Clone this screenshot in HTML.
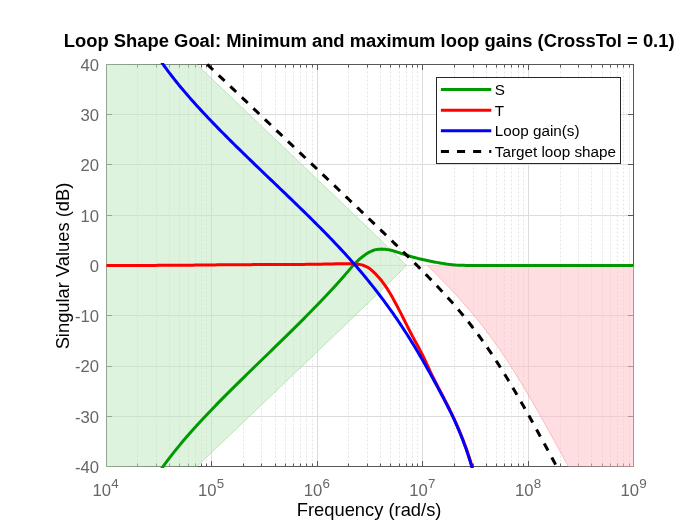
<!DOCTYPE html>
<html lang="en">
<head>
<meta charset="utf-8">
<title>Loop Shape Goal</title>
<style>
html,body{margin:0;padding:0;background:#fff;}
body{width:700px;height:525px;overflow:hidden;}
svg{display:block;}
svg text{font-family:"Liberation Sans",sans-serif;}
</style>
</head>
<body>
<svg width="700" height="525" viewBox="0 0 700 525">
<defs><clipPath id="pc"><rect x="106.0" y="63.0" width="528.0" height="405.0"/></clipPath></defs>
<rect x="0" y="0" width="700" height="525" fill="#ffffff"/>
<g stroke="#e4e4e4" stroke-width="1" stroke-dasharray="2 2" fill="none">
<line x1="137.5" y1="67.5" x2="137.5" y2="466.5"/>
<line x1="156.5" y1="67.5" x2="156.5" y2="466.5"/>
<line x1="169.5" y1="67.5" x2="169.5" y2="466.5"/>
<line x1="179.5" y1="67.5" x2="179.5" y2="466.5"/>
<line x1="188.5" y1="67.5" x2="188.5" y2="466.5"/>
<line x1="195.5" y1="67.5" x2="195.5" y2="466.5"/>
<line x1="201.5" y1="67.5" x2="201.5" y2="466.5"/>
<line x1="206.5" y1="67.5" x2="206.5" y2="466.5"/>
<line x1="243.5" y1="67.5" x2="243.5" y2="466.5"/>
<line x1="261.5" y1="67.5" x2="261.5" y2="466.5"/>
<line x1="275.5" y1="67.5" x2="275.5" y2="466.5"/>
<line x1="285.5" y1="67.5" x2="285.5" y2="466.5"/>
<line x1="293.5" y1="67.5" x2="293.5" y2="466.5"/>
<line x1="300.5" y1="67.5" x2="300.5" y2="466.5"/>
<line x1="306.5" y1="67.5" x2="306.5" y2="466.5"/>
<line x1="312.5" y1="67.5" x2="312.5" y2="466.5"/>
<line x1="348.5" y1="67.5" x2="348.5" y2="466.5"/>
<line x1="367.5" y1="67.5" x2="367.5" y2="466.5"/>
<line x1="380.5" y1="67.5" x2="380.5" y2="466.5"/>
<line x1="390.5" y1="67.5" x2="390.5" y2="466.5"/>
<line x1="399.5" y1="67.5" x2="399.5" y2="466.5"/>
<line x1="406.5" y1="67.5" x2="406.5" y2="466.5"/>
<line x1="412.5" y1="67.5" x2="412.5" y2="466.5"/>
<line x1="417.5" y1="67.5" x2="417.5" y2="466.5"/>
<line x1="454.5" y1="67.5" x2="454.5" y2="466.5"/>
<line x1="473.5" y1="67.5" x2="473.5" y2="466.5"/>
<line x1="486.5" y1="67.5" x2="486.5" y2="466.5"/>
<line x1="496.5" y1="67.5" x2="496.5" y2="466.5"/>
<line x1="504.5" y1="67.5" x2="504.5" y2="466.5"/>
<line x1="511.5" y1="67.5" x2="511.5" y2="466.5"/>
<line x1="518.5" y1="67.5" x2="518.5" y2="466.5"/>
<line x1="523.5" y1="67.5" x2="523.5" y2="466.5"/>
<line x1="560.5" y1="67.5" x2="560.5" y2="466.5"/>
<line x1="578.5" y1="67.5" x2="578.5" y2="466.5"/>
<line x1="591.5" y1="67.5" x2="591.5" y2="466.5"/>
<line x1="602.5" y1="67.5" x2="602.5" y2="466.5"/>
<line x1="610.5" y1="67.5" x2="610.5" y2="466.5"/>
<line x1="617.5" y1="67.5" x2="617.5" y2="466.5"/>
<line x1="623.5" y1="67.5" x2="623.5" y2="466.5"/>
<line x1="629.5" y1="67.5" x2="629.5" y2="466.5"/>
</g>
<g stroke="#dcdcdc" stroke-width="1" fill="none">
<line x1="211.5" y1="64.5" x2="211.5" y2="466.5"/>
<line x1="317.5" y1="64.5" x2="317.5" y2="466.5"/>
<line x1="422.5" y1="64.5" x2="422.5" y2="466.5"/>
<line x1="528.5" y1="64.5" x2="528.5" y2="466.5"/>
<line x1="106.5" y1="114.5" x2="633.5" y2="114.5"/>
<line x1="106.5" y1="164.5" x2="633.5" y2="164.5"/>
<line x1="106.5" y1="215.5" x2="633.5" y2="215.5"/>
<line x1="106.5" y1="265.5" x2="633.5" y2="265.5"/>
<line x1="106.5" y1="315.5" x2="633.5" y2="315.5"/>
<line x1="106.5" y1="366.5" x2="633.5" y2="366.5"/>
<line x1="106.5" y1="416.5" x2="633.5" y2="416.5"/>
</g>
<g stroke="#585858" stroke-width="1" fill="none">
<rect x="106.5" y="64.5" width="527.0" height="402.0"/>
<line x1="137.5" y1="466.5" x2="137.5" y2="463.5"/>
<line x1="137.5" y1="64.5" x2="137.5" y2="67.5"/>
<line x1="156.5" y1="466.5" x2="156.5" y2="463.5"/>
<line x1="156.5" y1="64.5" x2="156.5" y2="67.5"/>
<line x1="169.5" y1="466.5" x2="169.5" y2="463.5"/>
<line x1="169.5" y1="64.5" x2="169.5" y2="67.5"/>
<line x1="179.5" y1="466.5" x2="179.5" y2="463.5"/>
<line x1="179.5" y1="64.5" x2="179.5" y2="67.5"/>
<line x1="188.5" y1="466.5" x2="188.5" y2="463.5"/>
<line x1="188.5" y1="64.5" x2="188.5" y2="67.5"/>
<line x1="195.5" y1="466.5" x2="195.5" y2="463.5"/>
<line x1="195.5" y1="64.5" x2="195.5" y2="67.5"/>
<line x1="201.5" y1="466.5" x2="201.5" y2="463.5"/>
<line x1="201.5" y1="64.5" x2="201.5" y2="67.5"/>
<line x1="206.5" y1="466.5" x2="206.5" y2="463.5"/>
<line x1="206.5" y1="64.5" x2="206.5" y2="67.5"/>
<line x1="243.5" y1="466.5" x2="243.5" y2="463.5"/>
<line x1="243.5" y1="64.5" x2="243.5" y2="67.5"/>
<line x1="261.5" y1="466.5" x2="261.5" y2="463.5"/>
<line x1="261.5" y1="64.5" x2="261.5" y2="67.5"/>
<line x1="275.5" y1="466.5" x2="275.5" y2="463.5"/>
<line x1="275.5" y1="64.5" x2="275.5" y2="67.5"/>
<line x1="285.5" y1="466.5" x2="285.5" y2="463.5"/>
<line x1="285.5" y1="64.5" x2="285.5" y2="67.5"/>
<line x1="293.5" y1="466.5" x2="293.5" y2="463.5"/>
<line x1="293.5" y1="64.5" x2="293.5" y2="67.5"/>
<line x1="300.5" y1="466.5" x2="300.5" y2="463.5"/>
<line x1="300.5" y1="64.5" x2="300.5" y2="67.5"/>
<line x1="306.5" y1="466.5" x2="306.5" y2="463.5"/>
<line x1="306.5" y1="64.5" x2="306.5" y2="67.5"/>
<line x1="312.5" y1="466.5" x2="312.5" y2="463.5"/>
<line x1="312.5" y1="64.5" x2="312.5" y2="67.5"/>
<line x1="348.5" y1="466.5" x2="348.5" y2="463.5"/>
<line x1="348.5" y1="64.5" x2="348.5" y2="67.5"/>
<line x1="367.5" y1="466.5" x2="367.5" y2="463.5"/>
<line x1="367.5" y1="64.5" x2="367.5" y2="67.5"/>
<line x1="380.5" y1="466.5" x2="380.5" y2="463.5"/>
<line x1="380.5" y1="64.5" x2="380.5" y2="67.5"/>
<line x1="390.5" y1="466.5" x2="390.5" y2="463.5"/>
<line x1="390.5" y1="64.5" x2="390.5" y2="67.5"/>
<line x1="399.5" y1="466.5" x2="399.5" y2="463.5"/>
<line x1="399.5" y1="64.5" x2="399.5" y2="67.5"/>
<line x1="406.5" y1="466.5" x2="406.5" y2="463.5"/>
<line x1="406.5" y1="64.5" x2="406.5" y2="67.5"/>
<line x1="412.5" y1="466.5" x2="412.5" y2="463.5"/>
<line x1="412.5" y1="64.5" x2="412.5" y2="67.5"/>
<line x1="417.5" y1="466.5" x2="417.5" y2="463.5"/>
<line x1="417.5" y1="64.5" x2="417.5" y2="67.5"/>
<line x1="454.5" y1="466.5" x2="454.5" y2="463.5"/>
<line x1="454.5" y1="64.5" x2="454.5" y2="67.5"/>
<line x1="473.5" y1="466.5" x2="473.5" y2="463.5"/>
<line x1="473.5" y1="64.5" x2="473.5" y2="67.5"/>
<line x1="486.5" y1="466.5" x2="486.5" y2="463.5"/>
<line x1="486.5" y1="64.5" x2="486.5" y2="67.5"/>
<line x1="496.5" y1="466.5" x2="496.5" y2="463.5"/>
<line x1="496.5" y1="64.5" x2="496.5" y2="67.5"/>
<line x1="504.5" y1="466.5" x2="504.5" y2="463.5"/>
<line x1="504.5" y1="64.5" x2="504.5" y2="67.5"/>
<line x1="511.5" y1="466.5" x2="511.5" y2="463.5"/>
<line x1="511.5" y1="64.5" x2="511.5" y2="67.5"/>
<line x1="518.5" y1="466.5" x2="518.5" y2="463.5"/>
<line x1="518.5" y1="64.5" x2="518.5" y2="67.5"/>
<line x1="523.5" y1="466.5" x2="523.5" y2="463.5"/>
<line x1="523.5" y1="64.5" x2="523.5" y2="67.5"/>
<line x1="560.5" y1="466.5" x2="560.5" y2="463.5"/>
<line x1="560.5" y1="64.5" x2="560.5" y2="67.5"/>
<line x1="578.5" y1="466.5" x2="578.5" y2="463.5"/>
<line x1="578.5" y1="64.5" x2="578.5" y2="67.5"/>
<line x1="591.5" y1="466.5" x2="591.5" y2="463.5"/>
<line x1="591.5" y1="64.5" x2="591.5" y2="67.5"/>
<line x1="602.5" y1="466.5" x2="602.5" y2="463.5"/>
<line x1="602.5" y1="64.5" x2="602.5" y2="67.5"/>
<line x1="610.5" y1="466.5" x2="610.5" y2="463.5"/>
<line x1="610.5" y1="64.5" x2="610.5" y2="67.5"/>
<line x1="617.5" y1="466.5" x2="617.5" y2="463.5"/>
<line x1="617.5" y1="64.5" x2="617.5" y2="67.5"/>
<line x1="623.5" y1="466.5" x2="623.5" y2="463.5"/>
<line x1="623.5" y1="64.5" x2="623.5" y2="67.5"/>
<line x1="629.5" y1="466.5" x2="629.5" y2="463.5"/>
<line x1="629.5" y1="64.5" x2="629.5" y2="67.5"/>
<line x1="211.5" y1="466.5" x2="211.5" y2="461.0"/>
<line x1="211.5" y1="64.5" x2="211.5" y2="70.0"/>
<line x1="317.5" y1="466.5" x2="317.5" y2="461.0"/>
<line x1="317.5" y1="64.5" x2="317.5" y2="70.0"/>
<line x1="422.5" y1="466.5" x2="422.5" y2="461.0"/>
<line x1="422.5" y1="64.5" x2="422.5" y2="70.0"/>
<line x1="528.5" y1="466.5" x2="528.5" y2="461.0"/>
<line x1="528.5" y1="64.5" x2="528.5" y2="70.0"/>
<line x1="106.5" y1="114.5" x2="112.0" y2="114.5"/>
<line x1="633.5" y1="114.5" x2="628.0" y2="114.5"/>
<line x1="106.5" y1="164.5" x2="112.0" y2="164.5"/>
<line x1="633.5" y1="164.5" x2="628.0" y2="164.5"/>
<line x1="106.5" y1="215.5" x2="112.0" y2="215.5"/>
<line x1="633.5" y1="215.5" x2="628.0" y2="215.5"/>
<line x1="106.5" y1="265.5" x2="112.0" y2="265.5"/>
<line x1="633.5" y1="265.5" x2="628.0" y2="265.5"/>
<line x1="106.5" y1="315.5" x2="112.0" y2="315.5"/>
<line x1="633.5" y1="315.5" x2="628.0" y2="315.5"/>
<line x1="106.5" y1="366.5" x2="112.0" y2="366.5"/>
<line x1="633.5" y1="366.5" x2="628.0" y2="366.5"/>
<line x1="106.5" y1="416.5" x2="112.0" y2="416.5"/>
<line x1="633.5" y1="416.5" x2="628.0" y2="416.5"/>
</g>
<path d="M106.0,64.0 L196.84,64.46 L197.94,65.51 L199.03,66.55 L200.13,67.60 L201.23,68.65 L202.33,69.69 L203.43,70.74 L204.53,71.79 L205.62,72.84 L206.72,73.88 L207.82,74.93 L208.92,75.98 L210.02,77.03 L211.12,78.07 L212.21,79.12 L213.31,80.17 L214.41,81.22 L215.51,82.26 L216.61,83.31 L217.71,84.36 L218.80,85.40 L219.90,86.45 L221.00,87.50 L222.10,88.55 L223.20,89.59 L224.30,90.64 L225.39,91.69 L226.49,92.74 L227.59,93.78 L228.69,94.83 L229.79,95.88 L230.89,96.92 L231.99,97.97 L233.08,99.02 L234.18,100.07 L235.28,101.11 L236.38,102.16 L237.48,103.21 L238.58,104.26 L239.67,105.30 L240.77,106.35 L241.87,107.40 L242.97,108.45 L244.07,109.49 L245.17,110.54 L246.26,111.59 L247.36,112.63 L248.46,113.68 L249.56,114.73 L250.66,115.78 L251.76,116.82 L252.85,117.87 L253.95,118.92 L255.05,119.97 L256.15,121.01 L257.25,122.06 L258.35,123.11 L259.44,124.16 L260.54,125.20 L261.64,126.25 L262.74,127.30 L263.84,128.35 L264.94,129.39 L266.03,130.44 L267.13,131.49 L268.23,132.54 L269.33,133.58 L270.43,134.63 L271.53,135.68 L272.62,136.72 L273.72,137.77 L274.82,138.82 L275.92,139.87 L277.02,140.91 L278.12,141.96 L279.21,143.01 L280.31,144.06 L281.41,145.10 L282.51,146.15 L283.61,147.20 L284.71,148.25 L285.80,149.29 L286.90,150.34 L288.00,151.39 L289.10,152.44 L290.20,153.49 L291.30,154.53 L292.39,155.58 L293.49,156.63 L294.59,157.68 L295.69,158.72 L296.79,159.77 L297.89,160.82 L298.98,161.87 L300.08,162.91 L301.18,163.96 L302.28,165.01 L303.38,166.06 L304.48,167.11 L305.57,168.15 L306.67,169.20 L307.77,170.25 L308.87,171.30 L309.97,172.35 L311.07,173.39 L312.17,174.44 L313.26,175.49 L314.36,176.54 L315.46,177.59 L316.56,178.64 L317.66,179.68 L318.76,180.73 L319.85,181.78 L320.95,182.83 L322.05,183.88 L323.15,184.93 L324.25,185.97 L325.35,187.02 L326.44,188.07 L327.54,189.12 L328.64,190.17 L329.74,191.22 L330.84,192.27 L331.94,193.32 L333.03,194.37 L334.13,195.42 L335.23,196.47 L336.33,197.52 L337.43,198.57 L338.53,199.62 L339.62,200.67 L340.72,201.72 L341.82,202.77 L342.92,203.82 L344.02,204.87 L345.12,205.92 L346.21,206.97 L347.31,208.02 L348.41,209.07 L349.51,210.12 L350.61,211.18 L351.71,212.23 L352.80,213.28 L353.90,214.33 L355.00,215.39 L356.10,216.44 L357.20,217.49 L358.30,218.54 L359.39,219.60 L360.49,220.65 L361.59,221.71 L362.69,222.76 L363.79,223.82 L364.89,224.87 L365.98,225.93 L367.08,226.99 L368.18,228.04 L369.28,229.10 L370.38,230.16 L371.48,231.22 L372.57,232.28 L373.67,233.33 L374.77,234.40 L375.87,235.46 L376.97,236.52 L378.07,237.58 L379.16,238.64 L380.26,239.71 L381.36,240.77 L382.46,241.83 L383.56,242.90 L384.66,243.97 L385.75,245.04 L386.85,246.10 L387.95,247.17 L389.05,248.25 L390.15,249.32 L391.25,250.39 L392.35,251.47 L393.44,252.54 L394.54,253.62 L395.64,254.70 L396.74,255.78 L397.84,256.86 L398.94,257.94 L400.03,259.03 L401.13,260.11 L402.23,261.20 L403.33,262.29 L404.43,263.39 L405.53,264.48 L405.53,266.52 L404.43,267.61 L403.33,268.71 L402.23,269.80 L401.13,270.89 L400.03,271.97 L398.94,273.06 L397.84,274.14 L396.74,275.22 L395.64,276.30 L394.54,277.38 L393.44,278.46 L392.35,279.53 L391.25,280.61 L390.15,281.68 L389.05,282.75 L387.95,283.83 L386.85,284.90 L385.75,285.96 L384.66,287.03 L383.56,288.10 L382.46,289.17 L381.36,290.23 L380.26,291.29 L379.16,292.36 L378.07,293.42 L376.97,294.48 L375.87,295.54 L374.77,296.60 L373.67,297.67 L372.57,298.72 L371.48,299.78 L370.38,300.84 L369.28,301.90 L368.18,302.96 L367.08,304.01 L365.98,305.07 L364.89,306.13 L363.79,307.18 L362.69,308.24 L361.59,309.29 L360.49,310.35 L359.39,311.40 L358.30,312.46 L357.20,313.51 L356.10,314.56 L355.00,315.61 L353.90,316.67 L352.80,317.72 L351.71,318.77 L350.61,319.82 L349.51,320.88 L348.41,321.93 L347.31,322.98 L346.21,324.03 L345.12,325.08 L344.02,326.13 L342.92,327.18 L341.82,328.23 L340.72,329.28 L339.62,330.33 L338.53,331.38 L337.43,332.43 L336.33,333.48 L335.23,334.53 L334.13,335.58 L333.03,336.63 L331.94,337.68 L330.84,338.73 L329.74,339.78 L328.64,340.83 L327.54,341.88 L326.44,342.93 L325.35,343.98 L324.25,345.03 L323.15,346.07 L322.05,347.12 L320.95,348.17 L319.85,349.22 L318.76,350.27 L317.66,351.32 L316.56,352.36 L315.46,353.41 L314.36,354.46 L313.26,355.51 L312.17,356.56 L311.07,357.61 L309.97,358.65 L308.87,359.70 L307.77,360.75 L306.67,361.80 L305.57,362.85 L304.48,363.89 L303.38,364.94 L302.28,365.99 L301.18,367.04 L300.08,368.09 L298.98,369.13 L297.89,370.18 L296.79,371.23 L295.69,372.28 L294.59,373.32 L293.49,374.37 L292.39,375.42 L291.30,376.47 L290.20,377.51 L289.10,378.56 L288.00,379.61 L286.90,380.66 L285.80,381.71 L284.71,382.75 L283.61,383.80 L282.51,384.85 L281.41,385.90 L280.31,386.94 L279.21,387.99 L278.12,389.04 L277.02,390.09 L275.92,391.13 L274.82,392.18 L273.72,393.23 L272.62,394.28 L271.53,395.32 L270.43,396.37 L269.33,397.42 L268.23,398.46 L267.13,399.51 L266.03,400.56 L264.94,401.61 L263.84,402.65 L262.74,403.70 L261.64,404.75 L260.54,405.80 L259.44,406.84 L258.35,407.89 L257.25,408.94 L256.15,409.99 L255.05,411.03 L253.95,412.08 L252.85,413.13 L251.76,414.18 L250.66,415.22 L249.56,416.27 L248.46,417.32 L247.36,418.37 L246.26,419.41 L245.17,420.46 L244.07,421.51 L242.97,422.55 L241.87,423.60 L240.77,424.65 L239.67,425.70 L238.58,426.74 L237.48,427.79 L236.38,428.84 L235.28,429.89 L234.18,430.93 L233.08,431.98 L231.99,433.03 L230.89,434.08 L229.79,435.12 L228.69,436.17 L227.59,437.22 L226.49,438.26 L225.39,439.31 L224.30,440.36 L223.20,441.41 L222.10,442.45 L221.00,443.50 L219.90,444.55 L218.80,445.60 L217.71,446.64 L216.61,447.69 L215.51,448.74 L214.41,449.78 L213.31,450.83 L212.21,451.88 L211.12,452.93 L210.02,453.97 L208.92,455.02 L207.82,456.07 L206.72,457.12 L205.62,458.16 L204.53,459.21 L203.43,460.26 L202.33,461.31 L201.23,462.35 L200.13,463.40 L199.03,464.45 L197.94,465.49 L196.84,466.54 L106.0,467.0 Z" fill="rgba(195,233,195,0.55)" stroke="none"/>
<path d="M196.84,64.46 L197.94,65.51 L199.03,66.55 L200.13,67.60 L201.23,68.65 L202.33,69.69 L203.43,70.74 L204.53,71.79 L205.62,72.84 L206.72,73.88 L207.82,74.93 L208.92,75.98 L210.02,77.03 L211.12,78.07 L212.21,79.12 L213.31,80.17 L214.41,81.22 L215.51,82.26 L216.61,83.31 L217.71,84.36 L218.80,85.40 L219.90,86.45 L221.00,87.50 L222.10,88.55 L223.20,89.59 L224.30,90.64 L225.39,91.69 L226.49,92.74 L227.59,93.78 L228.69,94.83 L229.79,95.88 L230.89,96.92 L231.99,97.97 L233.08,99.02 L234.18,100.07 L235.28,101.11 L236.38,102.16 L237.48,103.21 L238.58,104.26 L239.67,105.30 L240.77,106.35 L241.87,107.40 L242.97,108.45 L244.07,109.49 L245.17,110.54 L246.26,111.59 L247.36,112.63 L248.46,113.68 L249.56,114.73 L250.66,115.78 L251.76,116.82 L252.85,117.87 L253.95,118.92 L255.05,119.97 L256.15,121.01 L257.25,122.06 L258.35,123.11 L259.44,124.16 L260.54,125.20 L261.64,126.25 L262.74,127.30 L263.84,128.35 L264.94,129.39 L266.03,130.44 L267.13,131.49 L268.23,132.54 L269.33,133.58 L270.43,134.63 L271.53,135.68 L272.62,136.72 L273.72,137.77 L274.82,138.82 L275.92,139.87 L277.02,140.91 L278.12,141.96 L279.21,143.01 L280.31,144.06 L281.41,145.10 L282.51,146.15 L283.61,147.20 L284.71,148.25 L285.80,149.29 L286.90,150.34 L288.00,151.39 L289.10,152.44 L290.20,153.49 L291.30,154.53 L292.39,155.58 L293.49,156.63 L294.59,157.68 L295.69,158.72 L296.79,159.77 L297.89,160.82 L298.98,161.87 L300.08,162.91 L301.18,163.96 L302.28,165.01 L303.38,166.06 L304.48,167.11 L305.57,168.15 L306.67,169.20 L307.77,170.25 L308.87,171.30 L309.97,172.35 L311.07,173.39 L312.17,174.44 L313.26,175.49 L314.36,176.54 L315.46,177.59 L316.56,178.64 L317.66,179.68 L318.76,180.73 L319.85,181.78 L320.95,182.83 L322.05,183.88 L323.15,184.93 L324.25,185.97 L325.35,187.02 L326.44,188.07 L327.54,189.12 L328.64,190.17 L329.74,191.22 L330.84,192.27 L331.94,193.32 L333.03,194.37 L334.13,195.42 L335.23,196.47 L336.33,197.52 L337.43,198.57 L338.53,199.62 L339.62,200.67 L340.72,201.72 L341.82,202.77 L342.92,203.82 L344.02,204.87 L345.12,205.92 L346.21,206.97 L347.31,208.02 L348.41,209.07 L349.51,210.12 L350.61,211.18 L351.71,212.23 L352.80,213.28 L353.90,214.33 L355.00,215.39 L356.10,216.44 L357.20,217.49 L358.30,218.54 L359.39,219.60 L360.49,220.65 L361.59,221.71 L362.69,222.76 L363.79,223.82 L364.89,224.87 L365.98,225.93 L367.08,226.99 L368.18,228.04 L369.28,229.10 L370.38,230.16 L371.48,231.22 L372.57,232.28 L373.67,233.33 L374.77,234.40 L375.87,235.46 L376.97,236.52 L378.07,237.58 L379.16,238.64 L380.26,239.71 L381.36,240.77 L382.46,241.83 L383.56,242.90 L384.66,243.97 L385.75,245.04 L386.85,246.10 L387.95,247.17 L389.05,248.25 L390.15,249.32 L391.25,250.39 L392.35,251.47 L393.44,252.54 L394.54,253.62 L395.64,254.70 L396.74,255.78 L397.84,256.86 L398.94,257.94 L400.03,259.03 L401.13,260.11 L402.23,261.20 L403.33,262.29 L404.43,263.39 L405.53,264.48 L405.53,266.52 L404.43,267.61 L403.33,268.71 L402.23,269.80 L401.13,270.89 L400.03,271.97 L398.94,273.06 L397.84,274.14 L396.74,275.22 L395.64,276.30 L394.54,277.38 L393.44,278.46 L392.35,279.53 L391.25,280.61 L390.15,281.68 L389.05,282.75 L387.95,283.83 L386.85,284.90 L385.75,285.96 L384.66,287.03 L383.56,288.10 L382.46,289.17 L381.36,290.23 L380.26,291.29 L379.16,292.36 L378.07,293.42 L376.97,294.48 L375.87,295.54 L374.77,296.60 L373.67,297.67 L372.57,298.72 L371.48,299.78 L370.38,300.84 L369.28,301.90 L368.18,302.96 L367.08,304.01 L365.98,305.07 L364.89,306.13 L363.79,307.18 L362.69,308.24 L361.59,309.29 L360.49,310.35 L359.39,311.40 L358.30,312.46 L357.20,313.51 L356.10,314.56 L355.00,315.61 L353.90,316.67 L352.80,317.72 L351.71,318.77 L350.61,319.82 L349.51,320.88 L348.41,321.93 L347.31,322.98 L346.21,324.03 L345.12,325.08 L344.02,326.13 L342.92,327.18 L341.82,328.23 L340.72,329.28 L339.62,330.33 L338.53,331.38 L337.43,332.43 L336.33,333.48 L335.23,334.53 L334.13,335.58 L333.03,336.63 L331.94,337.68 L330.84,338.73 L329.74,339.78 L328.64,340.83 L327.54,341.88 L326.44,342.93 L325.35,343.98 L324.25,345.03 L323.15,346.07 L322.05,347.12 L320.95,348.17 L319.85,349.22 L318.76,350.27 L317.66,351.32 L316.56,352.36 L315.46,353.41 L314.36,354.46 L313.26,355.51 L312.17,356.56 L311.07,357.61 L309.97,358.65 L308.87,359.70 L307.77,360.75 L306.67,361.80 L305.57,362.85 L304.48,363.89 L303.38,364.94 L302.28,365.99 L301.18,367.04 L300.08,368.09 L298.98,369.13 L297.89,370.18 L296.79,371.23 L295.69,372.28 L294.59,373.32 L293.49,374.37 L292.39,375.42 L291.30,376.47 L290.20,377.51 L289.10,378.56 L288.00,379.61 L286.90,380.66 L285.80,381.71 L284.71,382.75 L283.61,383.80 L282.51,384.85 L281.41,385.90 L280.31,386.94 L279.21,387.99 L278.12,389.04 L277.02,390.09 L275.92,391.13 L274.82,392.18 L273.72,393.23 L272.62,394.28 L271.53,395.32 L270.43,396.37 L269.33,397.42 L268.23,398.46 L267.13,399.51 L266.03,400.56 L264.94,401.61 L263.84,402.65 L262.74,403.70 L261.64,404.75 L260.54,405.80 L259.44,406.84 L258.35,407.89 L257.25,408.94 L256.15,409.99 L255.05,411.03 L253.95,412.08 L252.85,413.13 L251.76,414.18 L250.66,415.22 L249.56,416.27 L248.46,417.32 L247.36,418.37 L246.26,419.41 L245.17,420.46 L244.07,421.51 L242.97,422.55 L241.87,423.60 L240.77,424.65 L239.67,425.70 L238.58,426.74 L237.48,427.79 L236.38,428.84 L235.28,429.89 L234.18,430.93 L233.08,431.98 L231.99,433.03 L230.89,434.08 L229.79,435.12 L228.69,436.17 L227.59,437.22 L226.49,438.26 L225.39,439.31 L224.30,440.36 L223.20,441.41 L222.10,442.45 L221.00,443.50 L219.90,444.55 L218.80,445.60 L217.71,446.64 L216.61,447.69 L215.51,448.74 L214.41,449.78 L213.31,450.83 L212.21,451.88 L211.12,452.93 L210.02,453.97 L208.92,455.02 L207.82,456.07 L206.72,457.12 L205.62,458.16 L204.53,459.21 L203.43,460.26 L202.33,461.31 L201.23,462.35 L200.13,463.40 L199.03,464.45 L197.94,465.49 L196.84,466.54" fill="none" stroke="rgba(150,215,150,0.6)" stroke-width="1"/>
<path d="M427.62,265.58 L428.73,266.68 L429.83,267.78 L430.94,268.88 L432.04,269.99 L433.15,271.10 L434.25,272.21 L435.36,273.33 L436.46,274.45 L437.57,275.57 L438.67,276.69 L439.78,277.82 L440.88,278.95 L441.99,280.09 L443.09,281.23 L444.20,282.38 L445.31,283.52 L446.41,284.68 L447.52,285.84 L448.62,287.00 L449.73,288.17 L450.83,289.34 L451.94,290.52 L453.04,291.70 L454.15,292.89 L455.25,294.09 L456.36,295.29 L457.46,296.50 L458.57,297.71 L459.68,298.94 L460.78,300.16 L461.89,301.40 L462.99,302.64 L464.10,303.90 L465.20,305.16 L466.31,306.42 L467.42,307.70 L468.52,308.99 L469.63,310.28 L470.73,311.58 L471.84,312.90 L472.95,314.22 L474.05,315.55 L475.16,316.89 L476.27,318.25 L477.37,319.61 L478.48,320.98 L479.59,322.37 L480.69,323.76 L481.80,325.17 L482.91,326.59 L484.01,328.02 L485.12,329.46 L486.23,330.91 L487.33,332.38 L488.44,333.86 L489.55,335.35 L490.66,336.85 L491.76,338.36 L492.87,339.89 L493.98,341.43 L495.09,342.98 L496.19,344.55 L497.30,346.12 L498.41,347.71 L499.52,349.31 L500.63,350.93 L501.73,352.56 L502.84,354.20 L503.95,355.85 L505.06,357.51 L506.17,359.19 L507.27,360.88 L508.38,362.58 L509.49,364.29 L510.60,366.01 L511.71,367.75 L512.82,369.49 L513.93,371.25 L515.04,373.02 L516.14,374.80 L517.25,376.58 L518.36,378.38 L519.47,380.19 L520.58,382.01 L521.69,383.84 L522.80,385.68 L523.91,387.53 L525.02,389.38 L526.13,391.25 L527.24,393.12 L528.35,395.01 L529.46,396.90 L530.57,398.79 L531.68,400.70 L532.79,402.61 L533.90,404.53 L535.01,406.46 L536.12,408.39 L537.23,410.33 L538.34,412.28 L539.45,414.23 L540.56,416.19 L541.67,418.15 L542.78,420.12 L543.89,422.09 L545.00,424.07 L546.11,426.05 L547.22,428.04 L548.33,430.04 L549.44,432.03 L550.55,434.03 L551.66,436.04 L552.77,438.05 L553.88,440.06 L554.99,442.08 L556.10,444.10 L557.21,446.12 L558.32,448.15 L559.43,450.18 L560.54,452.21 L561.65,454.24 L562.76,456.28 L563.87,458.32 L564.98,460.36 L566.09,462.41 L567.20,464.46 L568.32,466.51 L634.0,467.0 L634.0,265.5 Z" fill="rgba(255,195,201,0.55)" stroke="none"/>
<path d="M427.62,265.58 L428.73,266.68 L429.83,267.78 L430.94,268.88 L432.04,269.99 L433.15,271.10 L434.25,272.21 L435.36,273.33 L436.46,274.45 L437.57,275.57 L438.67,276.69 L439.78,277.82 L440.88,278.95 L441.99,280.09 L443.09,281.23 L444.20,282.38 L445.31,283.52 L446.41,284.68 L447.52,285.84 L448.62,287.00 L449.73,288.17 L450.83,289.34 L451.94,290.52 L453.04,291.70 L454.15,292.89 L455.25,294.09 L456.36,295.29 L457.46,296.50 L458.57,297.71 L459.68,298.94 L460.78,300.16 L461.89,301.40 L462.99,302.64 L464.10,303.90 L465.20,305.16 L466.31,306.42 L467.42,307.70 L468.52,308.99 L469.63,310.28 L470.73,311.58 L471.84,312.90 L472.95,314.22 L474.05,315.55 L475.16,316.89 L476.27,318.25 L477.37,319.61 L478.48,320.98 L479.59,322.37 L480.69,323.76 L481.80,325.17 L482.91,326.59 L484.01,328.02 L485.12,329.46 L486.23,330.91 L487.33,332.38 L488.44,333.86 L489.55,335.35 L490.66,336.85 L491.76,338.36 L492.87,339.89 L493.98,341.43 L495.09,342.98 L496.19,344.55 L497.30,346.12 L498.41,347.71 L499.52,349.31 L500.63,350.93 L501.73,352.56 L502.84,354.20 L503.95,355.85 L505.06,357.51 L506.17,359.19 L507.27,360.88 L508.38,362.58 L509.49,364.29 L510.60,366.01 L511.71,367.75 L512.82,369.49 L513.93,371.25 L515.04,373.02 L516.14,374.80 L517.25,376.58 L518.36,378.38 L519.47,380.19 L520.58,382.01 L521.69,383.84 L522.80,385.68 L523.91,387.53 L525.02,389.38 L526.13,391.25 L527.24,393.12 L528.35,395.01 L529.46,396.90 L530.57,398.79 L531.68,400.70 L532.79,402.61 L533.90,404.53 L535.01,406.46 L536.12,408.39 L537.23,410.33 L538.34,412.28 L539.45,414.23 L540.56,416.19 L541.67,418.15 L542.78,420.12 L543.89,422.09 L545.00,424.07 L546.11,426.05 L547.22,428.04 L548.33,430.04 L549.44,432.03 L550.55,434.03 L551.66,436.04 L552.77,438.05 L553.88,440.06 L554.99,442.08 L556.10,444.10 L557.21,446.12 L558.32,448.15 L559.43,450.18 L560.54,452.21 L561.65,454.24 L562.76,456.28 L563.87,458.32 L564.98,460.36 L566.09,462.41 L567.20,464.46 L568.32,466.51" fill="none" stroke="rgba(255,150,158,0.6)" stroke-width="1"/>
<g clip-path="url(#pc)" fill="none" stroke-linejoin="round">
<path d="M158.78,472.70 L159.98,470.94 L161.21,469.19 L162.45,467.43 L163.71,465.67 L164.99,463.91 L166.29,462.16 L167.60,460.40 L168.93,458.64 L170.27,456.89 L171.64,455.13 L173.02,453.37 L174.41,451.61 L175.82,449.86 L177.24,448.10 L178.68,446.34 L180.14,444.59 L181.61,442.83 L183.09,441.07 L184.58,439.31 L186.09,437.56 L187.62,435.80 L189.15,434.04 L190.70,432.29 L192.26,430.53 L193.83,428.77 L195.42,427.01 L197.01,425.26 L198.62,423.50 L200.23,421.74 L201.86,419.99 L203.50,418.23 L205.15,416.47 L206.80,414.71 L208.47,412.96 L210.15,411.20 L211.83,409.44 L213.52,407.69 L215.22,405.93 L216.93,404.17 L218.65,402.41 L220.37,400.66 L222.10,398.90 L223.84,397.14 L225.59,395.39 L227.34,393.63 L229.09,391.87 L230.86,390.11 L232.62,388.36 L234.40,386.60 L236.17,384.84 L237.95,383.09 L239.74,381.33 L241.53,379.57 L243.32,377.81 L245.12,376.06 L246.92,374.30 L248.72,372.54 L250.53,370.79 L252.33,369.03 L254.14,367.27 L255.95,365.51 L257.76,363.76 L259.58,362.00 L261.39,360.24 L263.20,358.49 L265.02,356.73 L266.83,354.97 L268.65,353.21 L270.46,351.46 L272.27,349.70 L274.08,347.94 L275.89,346.19 L277.70,344.43 L279.50,342.67 L281.30,340.91 L283.10,339.16 L284.90,337.40 L286.69,335.64 L288.48,333.89 L290.27,332.13 L292.05,330.37 L293.83,328.61 L295.60,326.86 L297.37,325.10 L299.14,323.34 L300.90,321.59 L302.65,319.83 L304.40,318.07 L306.14,316.31 L307.88,314.56 L309.61,312.80 L311.34,311.04 L313.05,309.29 L314.76,307.53 L316.47,305.77 L318.16,304.01 L319.85,302.26 L321.53,300.50 L323.21,298.74 L324.87,296.99 L326.53,295.23 L328.17,293.47 L329.81,291.71 L331.44,289.96 L333.06,288.20 L334.67,286.44 L336.27,284.69 L337.86,282.93 L339.43,281.17 L341.00,279.41 L342.56,277.66 L344.11,275.90 L345.64,274.14 L347.16,272.39 L348.68,270.63 L350.17,268.87 L351.66,267.11 L353.14,265.36 L354.60,263.60 L356.07,262.41 L357.23,261.28 L358.40,260.20 L359.56,259.17 L360.73,258.19 L361.89,257.25 L363.06,256.32 L364.23,255.44 L365.39,254.61 L366.56,253.84 L367.72,253.10 L368.89,252.42 L370.05,251.80 L371.22,251.26 L372.39,250.75 L373.55,250.27 L374.72,249.88 L375.88,249.62 L377.05,249.46 L378.21,249.31 L379.38,249.20 L380.55,249.13 L381.71,249.10 L382.88,249.13 L384.04,249.21 L385.21,249.33 L386.37,249.47 L387.54,249.62 L388.71,249.79 L389.87,250.02 L391.04,250.27 L392.20,250.55 L393.37,250.87 L394.53,251.24 L395.70,251.64 L396.86,252.02 L398.03,252.40 L399.20,252.78 L400.36,253.16 L401.53,253.55 L402.69,253.93 L403.86,254.31 L405.02,254.69 L406.19,255.05 L407.36,255.42 L408.52,255.79 L409.69,256.15 L410.85,256.51 L412.02,256.85 L413.18,257.19 L414.35,257.51 L415.52,257.82 L416.68,258.12 L417.85,258.41 L419.01,258.70 L420.18,258.97 L421.34,259.24 L422.51,259.51 L423.68,259.77 L424.84,260.03 L426.01,260.29 L427.17,260.54 L428.34,260.78 L429.50,261.02 L430.67,261.25 L431.84,261.49 L433.00,261.72 L434.17,261.94 L435.33,262.16 L436.50,262.38 L437.66,262.60 L438.83,262.80 L440.00,263.00 L441.16,263.19 L442.33,263.39 L443.49,263.58 L444.66,263.77 L445.82,263.95 L446.99,264.13 L448.16,264.28 L449.32,264.43 L450.49,264.55 L451.65,264.67 L452.82,264.79 L453.98,264.90 L455.15,265.00 L456.32,265.09 L457.48,265.15 L458.65,265.20 L459.81,265.24 L460.98,265.27 L462.14,265.31 L463.31,265.34 L464.47,265.37 L465.64,265.39 L466.81,265.42 L467.97,265.44 L469.14,265.46 L470.30,265.47 L471.47,265.48 L472.63,265.49 L473.80,265.50 L474.97,265.50 L476.13,265.50 L477.30,265.50 L478.46,265.50 L479.63,265.50 L480.79,265.50 L481.96,265.50 L483.13,265.50 L484.29,265.50 L485.46,265.50 L486.62,265.50 L487.79,265.50 L488.95,265.50 L490.12,265.50 L491.29,265.50 L492.45,265.50 L493.62,265.50 L494.78,265.50 L495.95,265.50 L497.11,265.50 L498.28,265.50 L499.45,265.50 L500.61,265.50 L501.78,265.50 L502.94,265.50 L504.11,265.50 L505.27,265.50 L506.44,265.50 L507.61,265.50 L508.77,265.50 L509.94,265.50 L511.10,265.50 L512.27,265.50 L513.43,265.50 L514.60,265.50 L515.77,265.50 L516.93,265.50 L518.10,265.50 L519.26,265.50 L520.43,265.50 L521.59,265.50 L522.76,265.50 L523.93,265.50 L525.09,265.50 L526.26,265.50 L527.42,265.50 L528.59,265.50 L529.75,265.50 L530.92,265.50 L532.08,265.50 L533.25,265.50 L534.42,265.50 L535.58,265.50 L536.75,265.50 L537.91,265.50 L539.08,265.50 L540.24,265.50 L541.41,265.50 L542.58,265.50 L543.74,265.50 L544.91,265.50 L546.07,265.50 L547.24,265.50 L548.40,265.50 L549.57,265.50 L550.74,265.50 L551.90,265.50 L553.07,265.50 L554.23,265.50 L555.40,265.50 L556.56,265.50 L557.73,265.50 L558.90,265.50 L560.06,265.50 L561.23,265.50 L562.39,265.50 L563.56,265.50 L564.72,265.50 L565.89,265.50 L567.06,265.50 L568.22,265.50 L569.39,265.50 L570.55,265.50 L571.72,265.50 L572.88,265.50 L574.05,265.50 L575.22,265.50 L576.38,265.50 L577.55,265.50 L578.71,265.50 L579.88,265.50 L581.04,265.50 L582.21,265.50 L583.38,265.50 L584.54,265.50 L585.71,265.50 L586.87,265.50 L588.04,265.50 L589.20,265.50 L590.37,265.50 L591.54,265.50 L592.70,265.50 L593.87,265.50 L595.03,265.50 L596.20,265.50 L597.36,265.50 L598.53,265.50 L599.69,265.50 L600.86,265.50 L602.03,265.50 L603.19,265.50 L604.36,265.50 L605.52,265.50 L606.69,265.50 L607.85,265.50 L609.02,265.50 L610.19,265.50 L611.35,265.50 L612.52,265.50 L613.68,265.50 L614.85,265.50 L616.01,265.50 L617.18,265.50 L618.35,265.50 L619.51,265.50 L620.68,265.50 L621.84,265.50 L623.01,265.50 L624.17,265.50 L625.34,265.50 L626.51,265.50 L627.67,265.50 L628.84,265.50 L630.00,265.50 L631.17,265.50 L632.33,265.50 L633.50,265.50" stroke="#009900" stroke-width="3"/>
<path d="M106.50,265.50 L108.72,265.50 L110.94,265.50 L113.16,265.49 L115.38,265.49 L117.60,265.49 L119.82,265.48 L122.04,265.48 L124.25,265.48 L126.47,265.47 L128.69,265.46 L130.91,265.46 L133.13,265.45 L135.35,265.45 L137.57,265.44 L139.79,265.43 L142.01,265.43 L144.23,265.42 L146.45,265.41 L148.67,265.40 L150.89,265.40 L153.11,265.39 L155.33,265.38 L157.54,265.37 L159.76,265.36 L161.98,265.35 L164.20,265.34 L166.42,265.32 L168.64,265.31 L170.86,265.30 L173.08,265.28 L175.30,265.27 L177.52,265.26 L179.74,265.24 L181.96,265.22 L184.18,265.21 L186.40,265.19 L188.62,265.17 L190.83,265.16 L193.05,265.14 L195.27,265.12 L197.49,265.10 L199.71,265.09 L201.93,265.06 L204.15,265.04 L206.37,265.01 L208.59,264.99 L210.81,264.96 L213.03,264.93 L215.25,264.90 L217.47,264.87 L219.69,264.84 L221.91,264.81 L224.12,264.79 L226.34,264.76 L228.56,264.74 L230.78,264.72 L233.00,264.71 L235.22,264.69 L237.44,264.68 L239.66,264.67 L241.88,264.66 L244.10,264.65 L246.32,264.65 L248.54,264.64 L250.76,264.63 L252.98,264.62 L255.19,264.62 L257.41,264.61 L259.63,264.61 L261.85,264.60 L264.07,264.60 L266.29,264.59 L268.51,264.58 L270.73,264.58 L272.95,264.57 L275.17,264.56 L277.39,264.56 L279.61,264.55 L281.83,264.54 L284.05,264.53 L286.27,264.52 L288.48,264.51 L290.70,264.50 L292.92,264.48 L295.14,264.46 L297.36,264.45 L299.58,264.42 L301.80,264.40 L304.02,264.38 L306.24,264.35 L308.46,264.33 L310.68,264.30 L312.90,264.27 L315.12,264.24 L317.34,264.21 L319.56,264.18 L321.77,264.13 L323.99,264.08 L326.21,264.03 L328.43,263.98 L330.65,263.92 L332.87,263.88 L335.09,263.84 L337.31,263.81 L339.53,263.80 L341.75,263.80 L343.97,263.80 L346.19,263.80 L348.41,263.80 L350.63,263.80 L352.85,263.88 L355.06,264.00 L357.28,264.19 L359.50,264.47 L361.72,264.87 L363.94,265.54 L366.16,266.54 L368.38,267.82 L370.60,269.30 L372.02,270.57 L373.40,271.85 L374.73,273.12 L375.99,274.40 L377.21,275.67 L378.37,276.95 L379.49,278.22 L380.56,279.50 L381.59,280.77 L382.58,282.05 L383.54,283.32 L384.46,284.60 L385.35,285.87 L386.21,287.15 L387.04,288.42 L387.85,289.70 L388.64,290.97 L389.42,292.25 L390.17,293.52 L390.92,294.80 L391.65,296.07 L392.38,297.35 L393.09,298.62 L393.80,299.90 L394.50,301.17 L395.19,302.45 L395.87,303.72 L396.55,305.00 L397.22,306.27 L397.89,307.55 L398.55,308.82 L399.21,310.09 L399.86,311.37 L400.51,312.64 L401.16,313.92 L401.80,315.19 L402.45,316.47 L403.09,317.74 L403.73,319.02 L404.36,320.29 L405.00,321.57 L405.64,322.84 L406.28,324.12 L406.92,325.39 L407.56,326.67 L408.21,327.94 L408.85,329.22 L409.50,330.49 L410.16,331.77 L410.81,333.04 L411.48,334.32 L412.14,335.59 L412.82,336.87 L413.50,338.14 L414.18,339.42 L414.87,340.69 L415.56,341.97 L416.25,343.24 L416.95,344.52 L417.64,345.79 L418.33,347.07 L419.02,348.34 L419.70,349.62 L420.38,350.89 L421.05,352.16 L421.71,353.44 L422.37,354.71 L423.01,355.99 L423.64,357.26 L424.26,358.54 L424.87,359.81 L425.47,361.09 L426.05,362.36 L426.63,363.64 L427.20,364.91 L427.77,366.19 L428.35,367.46 L428.93,368.74 L429.53,370.01 L430.13,371.29 L430.74,372.56 L431.35,373.84 L431.98,375.11 L432.61,376.39 L433.25,377.66 L433.89,378.94 L434.54,380.21 L435.20,381.49 L435.86,382.76 L436.52,384.04 L437.18,385.31 L437.85,386.59 L438.52,387.86 L439.19,389.14 L439.86,390.41 L440.53,391.68 L441.20,392.96 L441.87,394.23 L442.54,395.51 L443.21,396.78 L443.87,398.06 L444.54,399.33 L445.19,400.61 L445.85,401.88 L446.50,403.16 L447.14,404.43 L447.78,405.71 L448.42,406.98 L449.05,408.26 L449.67,409.53 L450.29,410.81 L450.91,412.08 L451.52,413.36 L452.13,414.63 L452.73,415.91 L453.32,417.18 L453.91,418.46 L454.50,419.73 L455.07,421.01 L455.65,422.28 L456.22,423.56 L456.78,424.83 L457.34,426.11 L457.89,427.38 L458.44,428.66 L458.98,429.93 L459.52,431.21 L460.05,432.48 L460.57,433.75 L461.09,435.03 L461.61,436.30 L462.12,437.58 L462.62,438.85 L463.11,440.13 L463.61,441.40 L464.09,442.68 L464.57,443.95 L465.04,445.23 L465.51,446.50 L465.97,447.78 L466.43,449.05 L466.87,450.33 L467.32,451.60 L467.75,452.88 L468.18,454.15 L468.61,455.43 L469.03,456.70 L469.44,457.98 L469.84,459.25 L470.24,460.53 L470.63,461.80 L471.02,463.08 L471.40,464.35 L471.77,465.63 L472.14,466.90 L472.50,468.18 L472.85,469.45 L473.20,470.73 L473.54,472.00" stroke="#ff0000" stroke-width="3"/>
<path d="M158.86,58.30 L160.65,60.90 L162.47,63.51 L164.34,66.11 L166.24,68.72 L168.18,71.32 L170.15,73.92 L172.16,76.53 L174.21,79.13 L176.29,81.73 L178.40,84.34 L180.54,86.94 L182.72,89.55 L184.92,92.15 L187.16,94.75 L189.42,97.36 L191.71,99.96 L194.03,102.56 L196.38,105.17 L198.75,107.77 L201.14,110.38 L203.56,112.98 L206.00,115.58 L208.46,118.19 L210.94,120.79 L213.44,123.39 L215.97,126.00 L218.50,128.60 L221.06,131.21 L223.63,133.81 L226.22,136.41 L228.83,139.02 L231.45,141.62 L234.08,144.22 L236.72,146.83 L239.37,149.43 L242.04,152.04 L244.71,154.64 L247.40,157.24 L250.09,159.85 L252.78,162.45 L255.49,165.05 L258.20,167.66 L260.91,170.26 L263.63,172.87 L266.35,175.47 L269.07,178.07 L271.79,180.68 L274.52,183.28 L277.24,185.88 L279.96,188.49 L282.68,191.09 L285.39,193.70 L288.10,196.30 L290.81,198.90 L293.51,201.51 L296.20,204.11 L298.88,206.72 L301.56,209.32 L304.23,211.92 L306.88,214.53 L309.53,217.13 L312.16,219.73 L314.78,222.34 L317.39,224.94 L319.98,227.55 L322.55,230.15 L325.11,232.75 L327.66,235.36 L330.18,237.96 L332.68,240.56 L335.17,243.17 L337.63,245.77 L340.07,248.38 L342.49,250.98 L344.88,253.58 L347.25,256.19 L349.60,258.79 L351.92,261.39 L354.21,264.00 L356.47,266.60 L358.70,269.21 L360.91,271.81 L363.09,274.41 L365.24,277.02 L367.38,279.62 L369.48,282.22 L371.57,284.83 L373.63,287.43 L375.67,290.04 L377.69,292.64 L379.69,295.24 L381.67,297.85 L383.62,300.45 L385.55,303.05 L387.45,305.66 L389.34,308.26 L391.19,310.87 L393.03,313.47 L394.84,316.07 L396.63,318.68 L398.40,321.28 L400.14,323.88 L401.87,326.49 L403.58,329.09 L405.27,331.70 L406.94,334.30 L408.59,336.90 L410.22,339.51 L411.83,342.11 L413.43,344.72 L415.02,347.32 L416.58,349.92 L418.14,352.53 L419.67,355.13 L421.20,357.73 L422.71,360.34 L424.20,362.94 L425.69,365.55 L427.16,368.15 L428.62,370.75 L430.07,373.36 L431.51,375.96 L432.94,378.56 L434.36,381.17 L435.77,383.77 L437.17,386.38 L438.57,388.98 L439.96,391.58 L441.34,394.19 L442.72,396.79 L444.08,399.39 L445.44,402.00 L446.79,404.60 L448.12,407.21 L449.43,409.81 L450.72,412.41 L451.99,415.02 L453.23,417.62 L454.44,420.22 L455.62,422.83 L456.78,425.43 L457.91,428.04 L459.01,430.64 L460.09,433.24 L461.14,435.85 L462.17,438.45 L463.17,441.05 L464.14,443.66 L465.10,446.26 L466.03,448.87 L466.93,451.47 L467.81,454.07 L468.67,456.68 L469.51,459.28 L470.33,461.88 L471.12,464.49 L471.90,467.09 L472.65,469.70 L473.38,472.30" stroke="#0000ff" stroke-width="3"/>
<path d="M199.43,56.92 L200.81,58.23 L202.18,59.54 L203.55,60.85 L204.93,62.16 L206.30,63.47 L207.67,64.78 L209.05,66.09 L210.42,67.40 L211.79,68.71 L213.17,70.02 L214.54,71.33 L215.92,72.64 L217.29,73.95 L218.66,75.26 L220.04,76.57 L221.41,77.88 L222.78,79.19 L224.16,80.50 L225.53,81.81 L226.90,83.12 L228.28,84.43 L229.65,85.74 L231.03,87.05 L232.40,88.35 L233.77,89.66 L235.15,90.97 L236.52,92.28 L237.89,93.59 L239.27,94.90 L240.64,96.21 L242.01,97.52 L243.39,98.83 L244.76,100.14 L246.14,101.45 L247.51,102.76 L248.88,104.07 L250.26,105.38 L251.63,106.69 L253.00,108.00 L254.38,109.31 L255.75,110.62 L257.12,111.93 L258.50,113.24 L259.87,114.55 L261.25,115.86 L262.62,117.17 L263.99,118.48 L265.37,119.79 L266.74,121.10 L268.11,122.41 L269.49,123.72 L270.86,125.03 L272.23,126.34 L273.61,127.65 L274.98,128.96 L276.36,130.27 L277.73,131.58 L279.10,132.89 L280.48,134.20 L281.85,135.51 L283.22,136.82 L284.60,138.13 L285.97,139.44 L287.34,140.75 L288.72,142.06 L290.09,143.37 L291.47,144.68 L292.84,145.99 L294.21,147.30 L295.59,148.61 L296.96,149.92 L298.33,151.23 L299.71,152.54 L301.08,153.85 L302.45,155.16 L303.83,156.47 L305.20,157.78 L306.58,159.09 L307.95,160.40 L309.32,161.71 L310.70,163.02 L312.07,164.33 L313.44,165.64 L314.82,166.95 L316.19,168.26 L317.56,169.57 L318.94,170.89 L320.31,172.20 L321.69,173.51 L323.06,174.82 L324.43,176.13 L325.81,177.44 L327.18,178.75 L328.55,180.06 L329.93,181.37 L331.30,182.68 L332.67,184.00 L334.05,185.31 L335.42,186.62 L336.80,187.93 L338.17,189.24 L339.54,190.55 L340.92,191.87 L342.29,193.18 L343.66,194.49 L345.04,195.80 L346.41,197.12 L347.78,198.43 L349.16,199.74 L350.53,201.06 L351.91,202.37 L353.28,203.68 L354.65,205.00 L356.03,206.31 L357.40,207.63 L358.77,208.94 L360.15,210.26 L361.52,211.57 L362.89,212.89 L364.27,214.20 L365.64,215.52 L367.01,216.84 L368.39,218.15 L369.76,219.47 L371.14,220.79 L372.51,222.11 L373.88,223.43 L375.26,224.75 L376.63,226.07 L378.00,227.39 L379.38,228.71 L380.75,230.04 L382.12,231.36 L383.50,232.68 L384.87,234.01 L386.25,235.34 L387.62,236.66 L388.99,237.99 L390.37,239.32 L391.74,240.65 L393.11,241.98 L394.49,243.32 L395.86,244.65 L397.23,245.99 L398.61,247.33 L399.98,248.67 L401.36,250.01 L402.73,251.35 L404.10,252.70 L405.48,254.05 L406.85,255.40 L408.22,256.75 L409.60,258.10 L410.97,259.46 L412.34,260.82 L413.72,262.18 L415.09,263.55 L416.47,264.92 L417.84,266.29 L419.21,267.67 L420.59,269.05 L421.96,270.44 L423.33,271.83 L424.71,273.22 L426.08,274.62 L427.45,276.02 L428.83,277.43 L430.20,278.85 L431.58,280.27 L432.95,281.70 L434.32,283.13 L435.70,284.57 L437.07,286.02 L438.44,287.48 L439.82,288.94 L441.19,290.41 L442.56,291.89 L443.94,293.39 L445.31,294.88 L446.69,296.39 L448.06,297.91 L449.43,299.45 L450.81,300.99 L452.18,302.54 L453.55,304.11 L454.93,305.69 L456.30,307.28 L457.67,308.88 L459.05,310.50 L460.42,312.14 L461.80,313.78 L463.17,315.45 L464.54,317.13 L465.92,318.82 L467.29,320.53 L468.66,322.26 L470.04,324.01 L471.41,325.77 L472.78,327.55 L474.16,329.35 L475.53,331.17 L476.91,333.01 L478.28,334.87 L479.65,336.74 L481.03,338.64 L482.40,340.55 L483.77,342.49 L485.15,344.44 L486.52,346.41 L487.89,348.41 L489.27,350.42 L490.64,352.45 L492.02,354.50 L493.39,356.57 L494.76,358.66 L496.14,360.77 L497.51,362.90 L498.88,365.04 L500.26,367.21 L501.63,369.39 L503.00,371.59 L504.38,373.80 L505.75,376.03 L507.13,378.28 L508.50,380.54 L509.87,382.82 L511.25,385.12 L512.62,387.43 L513.99,389.75 L515.37,392.08 L516.74,394.43 L518.11,396.80 L519.49,399.17 L520.86,401.56 L522.24,403.95 L523.61,406.36 L524.98,408.78 L526.36,411.21 L527.73,413.64 L529.10,416.09 L530.48,418.55 L531.85,421.01 L533.22,423.48 L534.60,425.96 L535.97,428.45 L537.35,430.95 L538.72,433.45 L540.09,435.95 L541.47,438.47 L542.84,440.99 L544.21,443.51 L545.59,446.04 L546.96,448.58 L548.33,451.11 L549.71,453.66 L551.08,456.21 L552.46,458.76 L553.83,461.31 L555.20,463.87 L556.58,466.43 L557.95,469.00 L559.32,471.57 L560.70,474.14" stroke="#000000" stroke-width="3" stroke-dasharray="8.1 7.85" stroke-dashoffset="5.18"/>
</g>
<rect x="436.5" y="77.5" width="184" height="86" fill="#fff" stroke="#262626" stroke-width="1"/>
<line x1="440.9" y1="89.5" x2="491.3" y2="89.5" stroke="#009900" stroke-width="3"/>
<text x="494.8" y="94.90" font-size="15.25" fill="#000">S</text>
<line x1="440.9" y1="110.25" x2="491.3" y2="110.25" stroke="#ff0000" stroke-width="3"/>
<text x="494.8" y="115.65" font-size="15.25" fill="#000">T</text>
<line x1="440.9" y1="130.7" x2="491.3" y2="130.7" stroke="#0000ff" stroke-width="3"/>
<text x="494.8" y="136.10" font-size="15.25" fill="#000">Loop gain(s)</text>
<line x1="440.9" y1="151.4" x2="491.3" y2="151.4" stroke="#000000" stroke-width="3" stroke-dasharray="8.05 8.05"/>
<text x="494.8" y="156.80" font-size="15.25" fill="#000">Target loop shape</text>
<text x="369.2" y="47.2" text-anchor="middle" font-size="18.39" font-weight="bold" fill="#000">Loop Shape Goal: Minimum and maximum loop gains (CrossTol = 0.1)</text>
<text x="99" y="70.80" text-anchor="end" font-size="16.67" fill="#666">40</text>
<text x="99" y="121.05" text-anchor="end" font-size="16.67" fill="#666">30</text>
<text x="99" y="171.30" text-anchor="end" font-size="16.67" fill="#666">20</text>
<text x="99" y="221.55" text-anchor="end" font-size="16.67" fill="#666">10</text>
<text x="99" y="271.80" text-anchor="end" font-size="16.67" fill="#666">0</text>
<text x="99" y="322.05" text-anchor="end" font-size="16.67" fill="#666">-10</text>
<text x="99" y="372.30" text-anchor="end" font-size="16.67" fill="#666">-20</text>
<text x="99" y="422.55" text-anchor="end" font-size="16.67" fill="#666">-30</text>
<text x="99" y="472.80" text-anchor="end" font-size="16.67" fill="#666">-40</text>
<text x="92.40" y="496" font-size="16.67" fill="#666">10</text>
<text x="111.20" y="488" font-size="13.33" fill="#666">4</text>
<text x="198.02" y="496" font-size="16.67" fill="#666">10</text>
<text x="216.82" y="488" font-size="13.33" fill="#666">5</text>
<text x="303.64" y="496" font-size="16.67" fill="#666">10</text>
<text x="322.44" y="488" font-size="13.33" fill="#666">6</text>
<text x="409.26" y="496" font-size="16.67" fill="#666">10</text>
<text x="428.06" y="488" font-size="13.33" fill="#666">7</text>
<text x="514.88" y="496" font-size="16.67" fill="#666">10</text>
<text x="533.68" y="488" font-size="13.33" fill="#666">8</text>
<text x="620.50" y="496" font-size="16.67" fill="#666">10</text>
<text x="639.30" y="488" font-size="13.33" fill="#666">9</text>
<text x="369.1" y="516" text-anchor="middle" font-size="18.33" fill="#000">Frequency (rad/s)</text>
<text transform="translate(68.6,266) rotate(-90)" text-anchor="middle" font-size="18.33" fill="#000">Singular Values (dB)</text>
</svg>
</body>
</html>
